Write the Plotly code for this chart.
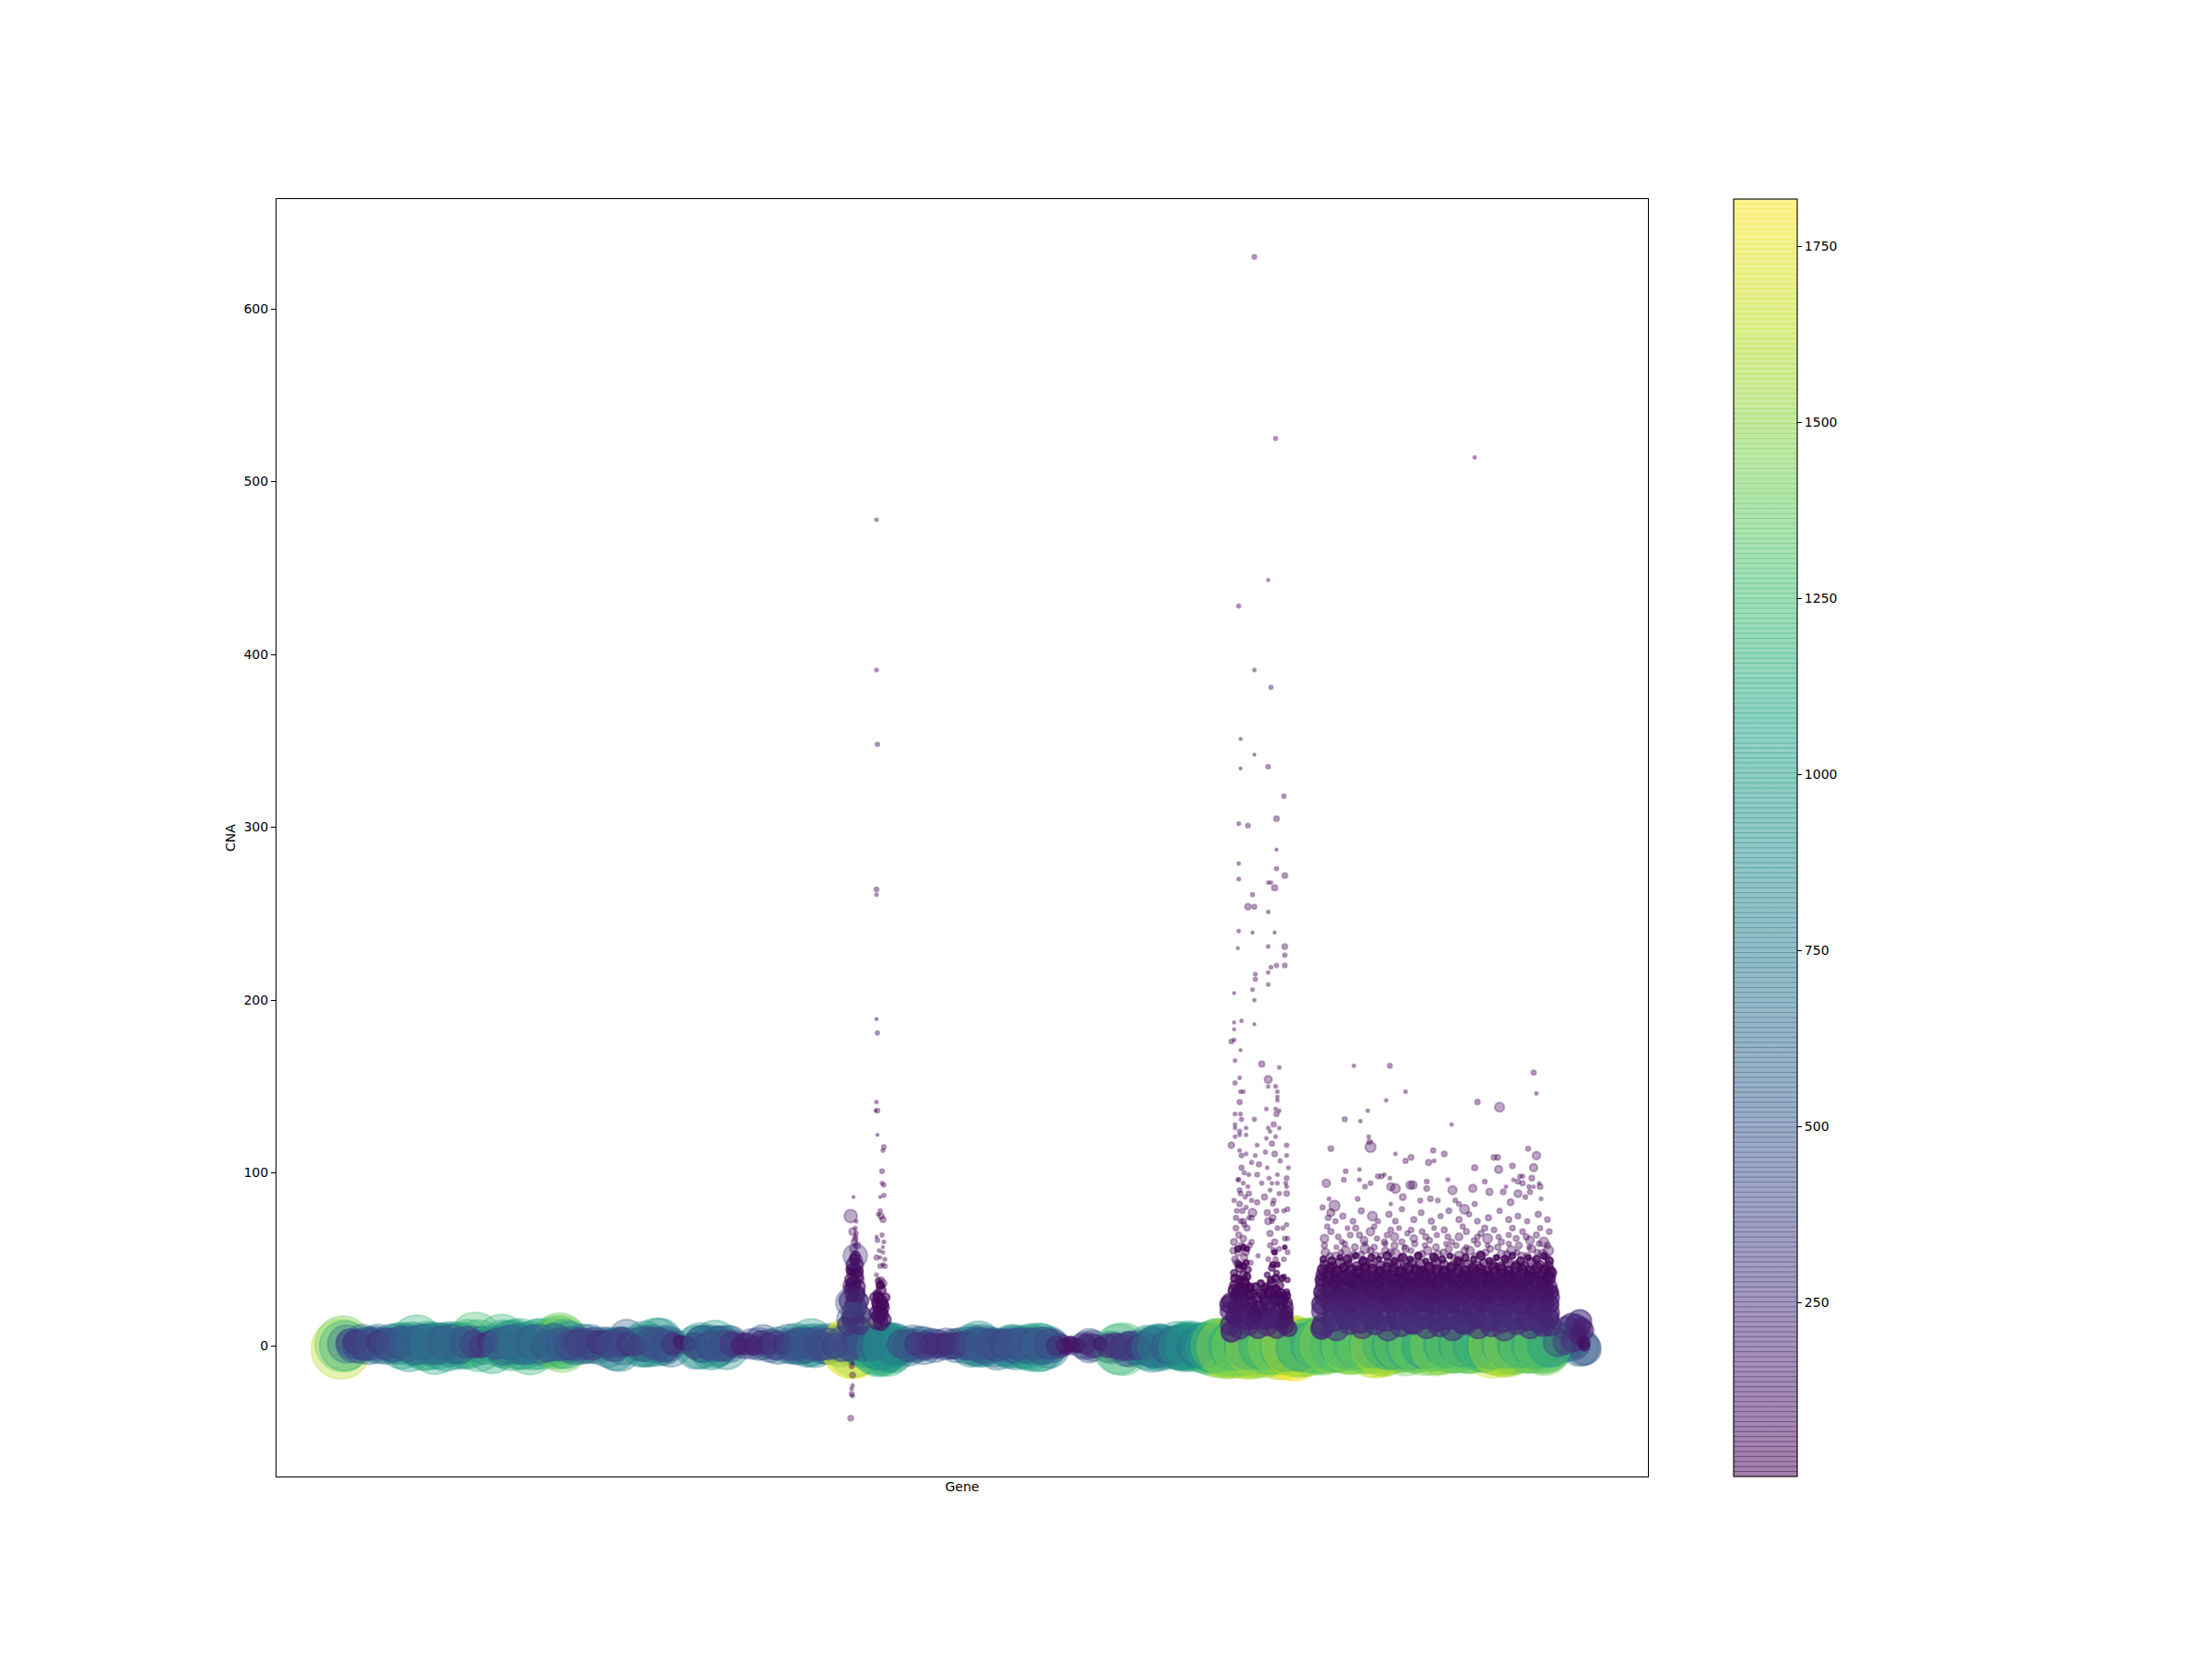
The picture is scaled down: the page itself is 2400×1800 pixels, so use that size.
import plotly.graph_objects as go

# Hand-read points: (gene position, CNA, colour/size value)
band_points = [
(370,-2,1620),(372,1,1420),(374,0,1150),(376,1,650),(379,2,300),(381,1,420),(384,0,520),(387,1,380),(390,-1,450),(393,2,560),
(396,1,500),(400,0,640),(403,2,300),(407,1,560),(410,1,700),(414,2,380),(418,0,620),(421,1,480),(425,1,720),(428,2,350),
(432,1,760),(436,0,980),(440,2,600),(444,-1,1050),(448,1,880),(452,3,1180),(456,1,700),(460,-1,950),(464,0,1080),(468,1,820),
(472,-2,1150),(476,0,980),(480,2,640),(484,-1,1020),(488,1,900),(492,2,560),(496,0,1000),(500,1,780),(504,0,950),(508,1,1100),
(512,2,500),(516,4,1280),(519,0,1200),(522,2,450),(525,0,620),(528,2,300),(531,1,520),(534,-2,1080),(537,2,380),(540,1,420),
(544,3,1230),(547,1,1050),(551,2,800),(555,0,1120),(559,2,900),(563,1,1180),(567,0,1000),(571,1,650),(575,-2,1190),(579,0,1050),
(583,2,980),(587,1,1150),(592,1,880),(596,1,700),(600,2,1050),(604,2,1300),(607,3,1380),(610,1,1450),(613,1,1100),(617,2,780),
(620,1,560),(624,0,650),(628,1,500),(632,1,720),(636,0,540),(640,1,680),(644,2,400),(648,0,600),(652,1,300),(656,1,500),
(660,-1,720),(664,1,420),(668,-2,820),(672,-2,900),(676,0,650),(680,5,560),(684,2,350),(688,1,240),(692,1,480),(696,0,820),
(700,1,950),(704,0,800),(708,1,650),(712,2,1050),(716,3,900),(720,0,680),(724,1,620),(728,-1,700),(732,1,300),(736,1,140),
(740,0,110),(744,1,100),(748,0,120),(752,1,200),(756,-1,850),(760,0,950),(764,1,620),(768,1,450),(772,-1,900),(776,1,1000),
(780,0,700),(784,1,560),(788,-1,880),(792,1,600),(796,1,350),(800,1,220),(804,1,180),(808,0,300),(812,1,120),(816,1,420),
(820,0,200),(824,1,480),(828,2,550),(832,0,250),(836,0,500),(840,1,380),(844,0,620),(848,1,250),(852,0,180),(856,1,700),
(860,0,580),(864,1,760),(868,0,640),(872,2,450),(876,0,820),(880,2,1000),(884,0,860),(888,1,540),(892,1,680),(896,0,620),
(900,1,750),(904,0,450),(908,1,580),(912,0,800),(916,1,400),(920,0,640),(924,-1,1700),(926,-1,1780),(928,-1,1560),(930,0,620),
(932,1,500),(934,0,700),(936,0,880),(938,0,420),(942,1,520),(946,-1,760),(950,-2,1150),(953,-3,1200),(956,-3,1120),(959,-2,1050),
(962,-3,1180),(965,-2,900),(968,-2,1000),(971,-1,700),(974,0,560),(978,0,480),(982,1,520),(986,-1,620),(990,1,640),(994,1,400),
(998,1,560),(1002,0,640),(1006,1,300),(1010,1,420),(1014,0,500),(1018,1,360),(1022,1,220),(1026,1,450),(1030,0,300),(1034,1,400),
(1038,0,520),(1042,1,460),(1046,1,200),(1050,0,620),(1054,0,830),(1058,0,700),(1062,1,950),(1066,0,820),(1070,0,680),(1074,0,520),
(1078,-1,700),(1082,-2,780),(1086,0,450),(1090,-1,620),(1094,-1,780),(1098,0,820),(1102,-1,900),(1106,0,640),(1110,-1,780),(1114,-1,860),
(1118,-1,1000),(1122,0,700),(1126,-1,1080),(1130,-1,1000),(1134,0,600),(1138,-1,780),(1142,0,500),(1146,0,300),(1150,0,250),(1154,0,180),
(1158,0,120),(1162,0,150),(1166,0,100),(1170,0,90),(1174,0,280),(1178,0,350),(1182,0,520),(1186,0,420),(1190,0,200),(1194,0,130),
(1198,0,90),(1202,-1,420),(1206,-1,480),(1210,-1,380),(1214,-2,1150),(1218,-2,1260),(1222,-2,520),(1226,-2,560),(1230,-2,430),(1234,-1,500),
(1238,-2,380),(1242,-2,480),(1246,-1,900),(1250,-2,960),(1254,-1,820),(1258,-1,1000),(1262,-2,700),(1266,-1,520),(1270,-1,620),(1274,-1,800),
(1278,0,1050),(1282,-1,950),(1286,-1,1080),(1290,0,1130),(1294,-1,900),(1298,-1,720),(1302,-1,1130),(1306,-1,950),(1309,-2,1050),(1313,-2,1200),
(1317,-1,1350),(1321,-2,1450),(1325,-1,1300),(1329,-2,1550),(1333,-2,1580),(1336,-2,1500),(1339,-1,1200),(1343,-2,1420),(1347,-1,1100),(1351,-2,1550),
(1354,-2,1650),(1357,-1,1380),(1360,-2,1560),(1364,-1,1200),(1368,-1,1050),(1372,-2,1450),(1376,-1,1100),(1380,-2,1300),(1384,-1,1150),(1388,-2,1650),
(1391,-2,1700),(1394,-1,1350),(1398,-1,1200),(1402,-2,1780),(1405,-2,1810),(1407,-1,1550),(1411,-2,1400),(1415,0,1180),(1419,-1,1500),(1423,0,1300),
(1427,0,1450),(1431,0,1480),(1435,-1,1380),(1438,1,1250),(1442,1,1050),(1446,1,1430),(1450,0,1220),(1454,1,1350),(1458,0,1380),(1462,1,1180),
(1466,0,1420),(1470,1,1100),(1474,0,1300),(1478,1,1350),(1482,0,1200),(1486,1,1080),(1490,-1,1640),(1494,-1,1700),(1498,0,1320),(1502,-1,1500),
(1505,1,1150),(1509,0,1380),(1513,0,1200),(1517,1,950),(1521,0,1300),(1525,-1,1450),(1529,1,1120),(1533,0,1250),(1537,0,1350),(1541,1,1080),
(1544,-1,1420),(1548,1,1000),(1552,0,1250),(1556,-1,1450),(1560,1,1100),(1564,1,950),(1568,0,1280),(1572,1,1180),(1576,0,1350),(1580,1,1000),
(1584,0,1220),(1588,1,1100),(1592,0,1300),(1596,1,1150),(1600,1,1050),(1604,0,1250),(1607,1,1100),(1611,0,1350),(1615,1,1050),(1619,-1,1700),
(1623,0,1500),(1627,1,1150),(1631,-1,1600),(1635,-1,1550),(1639,0,1450),(1643,0,1300),(1647,1,1100),(1651,0,1200),(1655,1,1000),(1659,0,1350),
(1663,1,1150),(1667,0,1300),(1671,1,1050),(1675,-1,1420),(1679,0,1200),(1682,1,1000),(1686,3,620),(1690,4,380),(1694,3,250),(1698,2,700),
(1702,3,480),(1706,2,600),(1710,1,350),(1714,-1,650),(1717,-1,580),(1720,-2,450),
]

band_fill_points = [
(386,2,260),(394,0,360),(402,1,460),(410,2,220),(418,1,420),(426,0,480),(434,2,460),(442,1,560),(450,0,640),(458,2,540),
(466,1,720),(474,0,620),(482,2,480),(490,1,680),(498,0,580),(506,2,460),(514,1,320),(522,0,240),(530,2,200),(538,1,400),
(546,0,660),(554,2,540),(562,1,720),(570,0,640),(578,2,520),(586,1,680),(594,0,440),(602,2,620),(610,1,480),(618,0,360),
(626,2,300),(634,1,420),(642,0,360),(650,2,240),(658,1,320),(666,0,440),(674,2,380),(682,1,240),(690,0,170),(698,1,540),
(706,2,400),(714,1,480),(722,0,440),(730,1,200),(738,2,80),(746,1,90),(754,0,300),(762,1,600),(770,0,360),(778,1,540),
(786,0,400),(794,1,240),(802,0,120),(810,1,200),(818,0,150),(826,2,240),(834,1,190),(842,0,360),(850,1,160),(858,0,400),
(866,1,440),(874,0,540),(882,1,460),(890,0,380),(898,1,440),(906,0,280),(914,1,540),(922,0,400),(930,2,340),(938,1,520),
(946,0,420),(954,-1,900),(962,0,980),(970,1,760),(978,1,340),(986,0,440),(994,1,220),(1002,0,340),(1010,1,200),(1018,0,240),
(1026,1,190),(1034,0,300),(1042,1,260),(1050,0,360),(1058,1,480),(1066,0,560),(1074,1,400),(1082,0,440),(1090,1,380),(1098,0,520),
(1106,1,440),(1114,0,540),(1122,1,440),(1130,0,620),(1138,1,400),(1146,0,160),(1154,0,90),(1162,1,100),(1170,0,80),(1178,1,170),
(1186,0,260),(1194,1,80),(1202,0,240),(1210,0,280),(1218,-1,300),(1226,0,360),(1234,-1,260),(1242,0,340),(1250,-1,700),(1258,0,800),
(1266,-1,460),(1274,0,680),(1282,-1,900),(1290,0,960),(1298,-1,640),(1306,0,920),(1314,-1,1100),(1322,0,1350),(1330,-1,1500),(1338,0,1100),
(1346,-1,1450),(1354,0,1000),(1362,-1,1550),(1370,0,1050),(1378,-1,1300),(1386,0,1500),(1394,-1,1050),(1402,0,1650),(1410,-1,1000),(1418,0,1300),
(1426,1,1000),(1434,0,1350),(1442,1,1500),(1450,0,1250),(1458,1,1050),(1466,0,1500),(1474,1,1150),(1482,0,1400),(1490,1,1000),(1498,0,1600),
(1506,1,1150),(1514,0,1000),(1522,1,1400),(1530,0,1050),(1538,1,1450),(1546,0,950),(1554,1,1250),(1562,0,1500),(1570,1,1000),(1578,0,1350),
(1586,1,950),(1594,0,1400),(1602,1,1000),(1610,0,1250),(1618,1,1100),(1626,0,1600),(1634,1,1050),(1642,0,1500),(1650,1,1000),(1658,0,1350),
(1666,1,1050),(1674,0,1400),(1682,1,950),(1690,2,360),(1698,2,260),(1706,3,220),
(1700,10,260),(1705,12,240),(1710,12,200),(1714,14,250),(1716,11,150),(1718,9,180),(1712,6,120),(1718,2,60),(1719,0,45),
]

mass_fill_points = [
(1434,10,200),(1447,15,230),(1461,16,210),(1475,14,240),(1489,16,200),(1503,15,230),(1517,16,220),(1531,14,240),(1545,16,200),(1559,15,230),
(1573,16,220),(1587,14,240),(1601,16,200),(1615,15,230),(1629,14,220),(1643,16,240),(1657,15,200),(1671,14,230),(1680,16,180),
(1434,24,170),(1444,25,160),(1455,23,180),(1466,25,150),(1477,24,170),(1488,23,180),(1499,25,160),(1510,24,150),(1521,25,170),(1532,23,180),
(1543,25,160),(1554,24,150),(1565,23,180),(1576,25,160),(1587,24,170),(1598,23,180),(1609,25,150),(1620,24,170),(1631,23,180),(1642,25,160),
(1653,24,170),(1664,23,150),(1675,25,170),(1682,24,130),
(1434,31,110),(1443,32,120),(1452,30,100),(1461,32,125),(1470,31,110),(1479,30,120),(1488,32,100),(1497,31,125),(1506,30,110),(1515,32,120),
(1524,31,100),(1533,30,125),(1542,32,110),(1551,31,120),(1560,30,100),(1569,32,125),(1578,31,110),(1587,30,120),(1596,32,100),(1605,31,125),
(1614,30,110),(1623,32,120),(1632,31,100),(1641,30,125),(1650,32,110),(1659,31,120),(1668,30,100),(1677,32,125),(1683,31,90),
(1434,38,70),(1441,39,75),(1449,37,65),(1456,39,80),(1464,38,70),(1471,37,75),(1479,39,65),(1486,38,80),(1494,37,70),(1501,39,75),
(1509,38,65),(1516,37,80),(1524,39,70),(1531,38,75),(1539,37,65),(1546,39,80),(1554,38,70),(1561,37,75),(1569,39,65),(1576,38,80),
(1584,37,70),(1591,39,75),(1599,38,65),(1606,37,80),(1614,39,70),(1621,38,75),(1629,37,65),(1636,39,80),(1644,38,70),(1651,37,75),
(1659,39,65),(1666,38,80),(1674,37,70),(1681,39,60),
(1435,44,45),(1443,45,40),(1450,43,50),(1458,45,38),(1466,44,45),(1473,43,50),(1481,45,40),(1489,44,48),(1497,43,38),(1505,45,45),
(1512,44,50),(1520,43,40),(1528,45,48),(1536,44,38),(1543,43,45),(1551,45,50),(1559,44,40),(1567,43,48),(1575,45,38),(1582,44,45),
(1590,43,50),(1598,45,40),(1606,44,48),(1613,43,38),(1621,45,45),(1629,44,50),(1637,43,40),(1645,45,48),(1652,44,38),(1660,43,45),
(1668,45,50),(1676,44,40),(1682,43,45),
(1436,50,18),(1445,49,25),(1454,51,12),(1462,50,28),(1471,52,14),(1479,49,30),(1488,51,20),(1496,50,12),(1505,52,26),(1513,49,18),
(1522,51,30),(1530,50,14),(1539,52,22),(1547,49,12),(1556,51,28),(1565,50,18),(1573,52,12),(1582,49,26),(1590,51,20),(1599,50,14),
(1607,52,30),(1616,49,18),(1624,51,12),(1633,50,24),(1641,52,16),(1650,49,28),(1658,51,12),(1667,50,22),(1675,52,18),(1681,49,26),
(1336,8,180),(1344,16,160),(1352,15,170),(1360,15,140),(1372,15,150),(1380,16,170),(1388,15,160),(1394,16,120),
(1333,24,130),(1339,17,120),(1346,24,110),(1353,25,100),(1376,24,110),(1384,27,100),(1391,27,70),(1396,19,70),
(1339,32,60),(1344,31,70),(1349,33,55),(1355,33,40),(1378,30,50),(1384,31,55),(1390,30,40),(1396,29,25),
(1340,39,30),(1345,38,28),(1350,37,35),(1353,40,22),(1379,38,20),(1384,39,22),(1391,39,14),
(1344,47,18),(1349,46,18),(1352,48,12),(1381,47,12),(1386,47,10),
(1343,56,14),(1349,57,12),(1353,56,10),(1383,54,10),(1394,57,6),
(1362,18,90),(1367,22,80),(1364,28,50),(1369,30,40),(1362,34,25),(1368,36,20),(1372,33,30),(1358,30,45),
(927,18,150),(922,16,120),(930,30,110),(926,24,130),(924,44,50),(930,43,60),(926,36,90),(927,50,45),
(953,17,80),(957,18,70),(953,23,60),(958,24,50),(953,28,45),(955,35,25),
]

mass_points = [
(1436,12,230),(1450,10,260),(1464,13,220),(1478,11,250),(1492,13,230),(1506,10,270),(1520,12,240),(1534,13,220),(1548,11,250),(1562,12,240),
(1576,10,260),(1590,13,230),(1604,11,250),(1618,12,240),(1632,10,270),(1646,13,220),(1660,11,250),(1674,12,230),(1682,12,200),
(1435,20,210),(1447,21,200),(1459,19,220),(1473,21,190),(1487,20,210),(1501,19,220),(1515,21,200),(1529,20,190),(1543,21,210),(1557,19,220),
(1571,21,200),(1585,20,190),(1599,19,220),(1613,21,200),(1627,20,210),(1641,19,220),(1655,21,190),(1669,20,210),(1681,19,180),
(1436,28,130),(1446,29,150),(1456,27,140),(1466,29,130),(1476,28,150),(1486,27,140),(1496,29,130),(1506,28,150),(1516,27,140),(1526,29,130),
(1536,28,150),(1546,27,140),(1556,29,130),(1566,28,150),(1576,27,140),(1586,29,130),(1596,28,150),(1606,27,140),(1616,29,130),(1626,28,150),
(1636,27,140),(1646,29,130),(1656,28,150),(1666,27,140),(1676,29,130),(1683,28,120),
(1435,35,85),(1443,34,95),(1451,36,80),(1459,35,90),(1467,34,85),(1475,36,95),(1483,35,80),(1491,34,90),(1499,36,85),(1507,35,95),
(1515,34,80),(1523,36,90),(1531,35,85),(1539,34,95),(1547,36,80),(1555,35,90),(1563,34,85),(1571,36,95),(1579,35,80),(1587,34,90),
(1595,36,85),(1603,35,95),(1611,34,80),(1619,36,90),(1627,35,85),(1635,34,95),(1643,36,80),(1651,35,90),(1659,34,85),(1667,36,95),
(1675,35,80),(1682,34,85),
(1434,41,55),(1441,42,60),(1448,40,50),(1455,42,65),(1462,41,55),(1469,40,60),(1476,42,50),(1483,41,65),(1490,40,55),(1497,42,60),
(1504,41,50),(1511,40,65),(1518,42,55),(1525,41,60),(1532,40,50),(1539,42,65),(1546,41,55),(1553,40,60),(1560,42,50),(1567,41,65),
(1574,40,55),(1581,42,60),(1588,41,50),(1595,40,65),(1602,42,55),(1609,41,60),(1616,40,50),(1623,42,65),(1630,41,55),(1637,40,60),
(1644,42,50),(1651,41,65),(1658,40,55),(1665,42,60),(1672,41,50),(1679,40,65),(1683,42,50),
(1437,47,35),(1446,46,30),(1454,48,40),(1463,47,25),(1472,46,35),(1480,48,45),(1489,47,28),(1498,46,38),(1506,48,30),(1515,47,40),
(1524,46,25),(1532,48,35),(1541,47,45),(1550,46,28),(1558,48,38),(1567,47,30),(1576,46,40),(1584,48,25),(1593,47,35),(1602,46,45),
(1610,48,28),(1619,47,38),(1628,46,30),(1636,48,40),(1645,47,25),(1654,46,35),(1662,48,45),(1671,47,28),(1680,46,38),
(1335,12,170),(1345,10,200),(1355,12,190),(1365,10,180),(1375,12,200),(1385,10,170),(1394,12,150),(1398,10,120),
(1334,20,150),(1342,22,130),(1350,20,120),(1358,21,90),(1370,20,110),(1379,23,130),(1388,20,120),(1395,22,100),
(1334,26,100),(1340,29,50),(1347,27,80),(1353,30,60),(1359,25,40),(1373,27,60),(1379,31,80),(1386,27,70),(1391,24,40),(1397,25,40),
(1339,35,35),(1344,33,45),(1350,36,40),(1356,34,30),(1374,34,25),(1380,36,35),(1384,33,30),(1389,35,20),(1396,31,15),
(1339,42,20),(1345,45,30),(1349,41,25),(1354,44,18),(1375,41,12),(1380,45,18),(1385,42,12),(1393,40,8),(1397,38,10),
(920,12,180),(926,14,200),(932,12,160),(924,20,150),(930,22,170),(936,18,120),(922,26,200),(928,28,130),(934,26,110),(925,33,100),
(931,34,90),(924,38,80),(930,40,70),(927,44,60),(925,47,70),(931,47,50),(928,52,40),
(951,14,110),(956,13,90),(960,15,70),(950,19,70),(955,20,80),(959,22,50),(951,25,40),(956,26,60),(961,28,30),(952,30,30),(956,32,40),(949,28,40),
]

# Scattered dots above the dense block, single pass
upper_points = [
(1438,54,30),(1449,52,22),(1460,55,35),(1469,53,18),(1481,56,40),(1492,52,25),(1503,55,20),(1514,53,45),(1525,56,22),(1538,52,18),
(1549,55,30),(1560,53,25),(1572,56,20),(1583,52,35),(1595,55,30),(1606,53,22),(1617,56,18),(1629,53,28),(1640,55,40),(1651,52,22),
(1662,56,25),(1674,53,35),(1680,55,45),(1443,52,16),(1455,54,12),(1466,51,20),(1477,53,14),(1487,55,18),(1498,52,14),(1509,54,20),
(1520,51,16),(1531,55,12),(1543,53,20),(1554,52,14),(1566,54,18),(1577,51,14),(1589,55,20),(1600,52,12),(1612,54,18),(1623,51,14),
(1635,53,20),(1646,54,12),(1657,52,18),(1668,54,14),(1678,51,20),
(1437,62,30),(1444,66,14),(1456,60,10),(1465,64,12),(1471,68,14),(1480,61,24),(1487,66,30),(1494,62,10),(1502,60,14),(1509,67,12),
(1513,63,30),(1521,60,14),(1527,65,10),(1534,62,22),(1543,66,12),(1551,61,14),(1559,64,10),(1567,67,14),(1575,60,12),(1583,63,24),
(1591,66,14),(1599,61,10),(1607,65,14),(1614,62,40),(1621,67,12),(1629,60,14),(1637,64,10),(1645,62,14),(1652,66,12),(1660,61,30),
(1667,64,14),(1675,60,40),(1681,66,12),(1437,58,14),(1450,57,8),(1459,59,12),(1470,57,18),(1481,59,8),(1491,57,14),(1503,59,10),
(1513,58,20),(1524,57,8),(1535,59,14),(1546,58,10),(1558,57,18),(1569,59,8),(1580,58,12),(1591,57,10),(1603,59,16),(1614,58,8),
(1625,57,14),(1637,59,10),(1648,58,18),(1659,57,8),(1670,59,12),(1679,58,16),(1440,69,10),(1452,63,12),(1462,68,8),(1475,64,14),
(1491,69,10),(1505,64,12),(1518,68,8),(1531,67,12),(1547,63,14),(1556,68,8),(1571,63,12),(1587,69,10),(1603,63,12),(1611,68,14),
(1626,63,10),(1641,68,12),(1656,63,14),(1671,68,10),
(1441,74,12),(1449,72,10),(1457,75,14),(1468,72,12),(1477,78,14),(1495,72,10),(1507,76,14),(1514,72,12),(1521,79,10),(1534,73,14),
(1542,77,12),(1553,72,14),(1563,75,10),(1572,78,12),(1583,73,14),(1594,76,10),(1603,72,12),(1615,74,14),(1627,78,10),(1637,73,14),
(1647,75,12),(1657,72,10),(1669,76,14),(1679,73,12),
(1340,50,18),(1344,54,25),(1350,51,20),(1357,48,10),(1365,52,6),(1376,50,8),(1382,55,14),(1393,50,8),(1397,54,8),(1339,60,20),
(1344,64,14),(1349,62,18),(1353,68,14),(1358,60,10),(1378,65,14),(1383,60,14),(1394,62,8),(1396,70,6),(1338,55,16),(1342,48,22),
(1347,58,14),(1352,54,16),(1356,58,10),(1341,68,12),(1346,72,8),(1350,70,10),(1355,74,6),(1342,78,8),(1348,78,10),(1339,84,6),
(1345,90,8),(1351,86,6),(1355,88,10),(1344,96,6),(1349,94,5),(1384,50,10),(1388,56,8),(1378,58,10),(1392,68,6),(1397,62,6),
(1380,72,8),(1386,68,8),(1393,78,6),(1381,82,8),(1388,88,6),(1396,92,5),(1378,90,5),(1386,94,5),
(926,56,25),(930,58,20),(928,62,10),(929,65,6),(928,68,5),(929,72,4),(927,60,15),(923,42,30),(933,38,30),(920,33,40),
(958,36,25),(953,37,15),(956,38,15),
]

# Sparse outliers read one by one
outlier_points = [
(1361,630,8),(1384,525,6),(1600,514,4),(1376,443,3),(1344,428,6),(1361,391,4),(1379,381,6),(1346,351,3),(1361,342,3),(1346,334,3),
(1376,335,7),(1393,318,7),(1385,305,12),(1344,302,5),(1354,301,8),(1385,287,3),(1344,279,4),(1385,276,6),(1394,272,12),(1344,270,5),
(1376,268,4),(1379,268,4),(1383,265,14),(1359,261,6),(1354,254,16),(1361,254,9),(1376,251,4),(1344,240,4),(1359,239,3),(1383,239,3),
(1343,230,3),(1376,231,4),(1394,231,12),(1394,226,7),(1385,220,7),(1394,220,8),(1379,219,5),(1376,216,4),(1362,215,5),(1362,212,6),
(1376,209,4),(1359,206,5),(1339,204,3),(1361,200,4),(1339,187,3),(1347,188,4),(1361,186,3),(1339,183,3),(1339,177,4),(1336,176,8),
(1346,171,3),(1340,165,4),(1369,163,14),(1388,161,4),
(1345,155,4),(1376,154,25),(1340,152,6),(1376,150,4),(1384,150,5),(1346,147,5),(1349,147,4),(1386,147,4),(1386,144,4),(1345,141,10),
(1386,142,4),(1384,137,4),(1374,137,4),(1388,136,4),(1385,134,10),(1340,134,5),(1346,134,5),(1347,131,6),(1361,131,6),(1382,128,10),
(1340,128,4),(1340,126,4),(1345,124,6),(1352,126,4),(1376,126,4),(1378,124,4),(1388,126,4),(1336,116,16),(1345,122,4),(1340,121,4),
(1352,122,4),(1374,120,4),(1384,121,4),(1364,116,5),(1380,117,10),(1396,116,7),(1345,113,4),(1347,110,8),(1352,111,4),(1362,110,5),
(1373,112,6),(1383,111,12),(1396,110,5),(1347,103,10),(1358,106,6),(1366,105,10),(1375,103,4),(1389,107,6),(1398,103,5),(1350,100,6),
(1355,99,5),(1364,99,8),(1377,97,5),(1386,99,5),(1396,97,8),(1343,96,5),(1354,92,5),(1369,94,6),(1380,94,4),(1395,94,5),
(1346,88,8),(1358,84,6),(1372,86,14),(1382,84,8),(1396,88,12),(1345,82,12),(1352,80,6),(1359,77,30),(1364,83,10),(1375,77,14),
(1385,78,8),(1397,79,8),(1341,74,10),(1349,72,12),(1358,74,10),(1376,72,20),(1381,74,16),
(1469,162,4),(1508,162,9),(1664,158,10),(1667,146,4),(1525,147,4),(1504,142,4),(1603,141,11),(1627,138,40),(1484,136,4),(1459,131,9),
(1476,130,4),(1575,128,4),(1485,121,4),(1486,118,10),(1487,115,50),(1444,114,12),(1658,114,9),(1555,113,10),(1567,111,12),(1514,111,4),
(1667,110,28),(1621,109,12),(1625,109,12),(1531,109,12),(1525,107,10),(1550,106,14),(1556,107,5),(1600,103,14),(1641,104,12),(1664,103,26),
(1626,102,26),(1475,102,4),(1460,101,8),(1649,98,6),(1652,98,6),(1662,97,12),(1495,98,9),(1499,98,9),(1502,99,4),(1508,97,4),
(1571,96,5),(1458,96,8),(1475,96,5),(1548,95,8),(1611,95,8),(1647,95,10),(1652,94,10),(1439,94,28),(1642,96,4),(1670,94,4),
(1487,94,8),(1481,92,8),(1530,93,28),(1533,93,28),(1671,92,12),(1509,92,26),(1514,91,40),(1548,91,12),(1598,91,26),(1576,90,34),
(1634,92,4),(1659,92,6),(1664,92,4),(1660,89,10),(1616,89,20),(1631,89,12),(1647,88,24),(1672,85,5),(1473,85,8),
(1442,85,5),(1448,81,50),(1444,77,25),(1435,80,10),(1489,75,40),(1589,79,40),(1522,86,18),(1541,84,9),(1552,85,12),(1509,82,4),
(1560,84,8),(1600,82,10),(1655,86,8),(1639,83,18),(1579,84,8),(1583,82,8),
(951,478,4),(951,391,5),(952,348,7),(951,264,8),(951,261,4),(951,189,3),(952,181,6),(951,141,4),(952,136,8),(950,136,3),
(952,122,3),(959,115,8),(958,113,5),(957,101,8),(957,94,5),(959,93,6),(959,87,6),(955,86,3),(926,86,3),(953,76,5),
(956,75,14),(958,73,14),(955,78,6),(923,75,77),(925,66,22),(928,63,4),(929,58,5),(928,54,5),(928,52,260),(929,50,60),
(952,61,7),(957,64,6),(959,60,5),(951,63,3),(958,57,3),(954,55,5),(958,54,4),(951,51,9),(955,51,3),(960,50,5),
(958,47,5),(955,46,8),(960,46,8),(951,41,5),(953,38,10),(958,35,8),(923,25,400),(926,15,500),(921,35,60),(924,30,90),
(924,-12,8),(925,-17,12),(925,-23,4),(924,-25,4),(924,-28,8),(925,-29,5),(923,-42,12),(925,-10,4),
]

tick_vals = [0, 100, 200, 300, 400, 500, 600]
colorbar_ticks = [250, 500, 750, 1000, 1250, 1500, 1750]

stops = ["#440154", "#482475", "#414487", "#355f8d", "#2a788e", "#21918c",
         "#22a884", "#44bf70", "#7ad151", "#bddf26", "#fde725"]
rgb = [(int(h[1:3], 16), int(h[3:5], 16), int(h[5:7], 16)) for h in stops]
viridis_half = [[i / 10, f"rgba({r},{g},{b},0.5)"] for i, (r, g, b) in enumerate(rgb)]


def half_colour(t):
    """Viridis with 50% alpha at a 0..1 position, for the colour bar's seams."""
    p = min(t * 10, 9.999)
    i = int(p)
    f = p - i
    r, g, b = (round(a + (z - a) * f) for a, z in zip(rgb[i], rgb[i + 1]))
    return f"rgba({r},{g},{b},0.5)"


FONT = "DejaVu Sans"
AXIS_LEFT, AXIS_RIGHT = 300, 1788
CBAR_LEFT, CBAR_RIGHT = 1881, 1950
cbar_x0 = (CBAR_LEFT - AXIS_LEFT) / (AXIS_RIGHT - AXIS_LEFT)

# The reference stacks thousands of translucent marks, so the dense groups get extra passes.
draw_order = [band_points, band_fill_points, band_fill_points,
              mass_fill_points, mass_points, mass_fill_points, mass_points,
              mass_fill_points, upper_points, outlier_points]

fig = go.Figure()
for pts in draw_order:
    xs, ys, cs = zip(*pts)
    fig.add_trace(go.Scatter(
        x=list(xs), y=list(ys), mode="markers", hoverinfo="skip", showlegend=False,
        marker=dict(color=list(cs), coloraxis="coloraxis", size=list(cs),
                    sizemode="area", sizeref=0.78,
                    line=dict(color=list(cs), coloraxis="coloraxis", width=2)),
    ))

# Seams between the colour bar's translucent segments (256 segments)
seams = [dict(type="line", xref="paper", yref="paper",
              x0=cbar_x0, x1=(CBAR_RIGHT - AXIS_LEFT) / (AXIS_RIGHT - AXIS_LEFT),
              y0=k / 256, y1=k / 256, layer="above",
              line=dict(color=half_colour(k / 256), width=1))
         for k in range(1, 256)]

axis_line = dict(showline=True, mirror=True, linecolor="black", linewidth=1.1,
                 showgrid=False, zeroline=False)
fig.update_layout(
    width=2392, height=1792, paper_bgcolor="white", plot_bgcolor="white",
    margin=dict(l=292, r=612, t=208, b=198, autoexpand=False),
    font=dict(family=FONT, size=14, color="black"),
    shapes=seams,
    xaxis=dict(range=[AXIS_LEFT, AXIS_RIGHT], showticklabels=False, ticks="",
               title=dict(text="Gene", font=dict(size=14), standoff=6), **axis_line),
    yaxis=dict(range=[-75.7, 663.5], tickvals=tick_vals, ticks="outside", ticklen=5,
               tickwidth=1.1, tickcolor="black",
               title=dict(text="CNA", font=dict(size=14), standoff=5), **axis_line),
    coloraxis=dict(
        colorscale=viridis_half, cmin=3, cmax=1817,
        colorbar=dict(x=cbar_x0, xanchor="left", xpad=0, ypad=0, y=0.5, yanchor="middle",
                      len=1, lenmode="fraction", thickness=CBAR_RIGHT - CBAR_LEFT,
                      thicknessmode="pixels", outlinecolor="black", outlinewidth=1.1,
                      tickvals=colorbar_ticks, ticks="outside", ticklen=5, tickwidth=1.1,
                      tickcolor="black", tickfont=dict(family=FONT, size=14)),
    ),
)
fig.write_html("out.html")
